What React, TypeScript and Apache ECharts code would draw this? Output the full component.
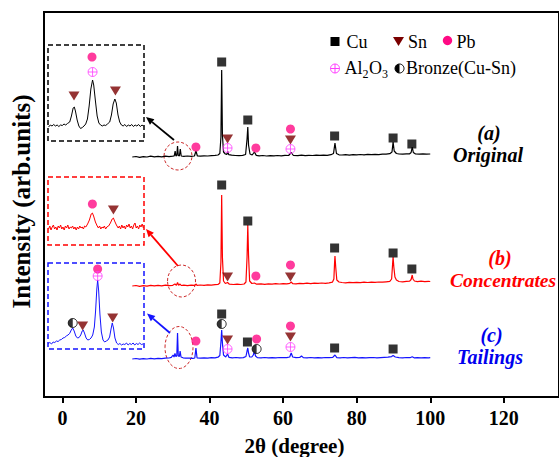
import React, { useEffect, useRef } from "react";
import * as echarts from "echarts";

const FONT = "Liberation Serif, Times New Roman, serif";

const xTickValues = [0, 20, 40, 60, 80, 100, 120];

// Main patterns: [2theta, offset intensity]
const originalCurve = [
  [19, 240], [20, 240.5], [21, 239.6], [22, 240.3], [23, 240], [24, 240.8], [25, 240.1], [26, 240.6], [27, 240.2], [28, 240.9],
  [29, 240.4], [30, 240.8], [30.4, 241], [30.65, 246], [30.85, 241], [31.1, 241.5], [31.3, 251], [31.5, 241.5], [31.8, 241],
  [32.05, 248], [32.3, 241], [33, 240.6], [34, 241], [35, 240.7], [35.9, 241], [36.3, 246], [36.7, 241], [37.5, 240.8],
  [38.5, 241.2], [39.5, 241], [40.5, 241.4], [41.5, 241.6], [42.3, 242], [42.8, 243.5], [43.1, 260], [43.3, 327], [43.5, 262],
  [43.8, 245], [44.3, 243], [44.7, 242.5], [44.95, 245.5], [45.2, 242.3], [46, 241.8], [47, 241.5], [48, 241.4], [49, 241.6],
  [49.8, 242.5], [50.2, 258], [50.4, 270], [50.6, 252], [51, 243], [51.6, 242], [52.2, 245], [52.7, 241.6], [53.5, 241.2],
  [54.5, 241.5], [55.5, 241], [56.5, 241.4], [57.5, 241.1], [58.5, 241.5], [59.5, 241.2], [60.5, 241.6], [61.5, 241.5],
  [62.2, 244.5], [62.8, 241.5], [64, 241.4], [65, 241.8], [66, 241.3], [67, 241.6], [68, 241.5], [69, 241.8], [70, 241.6],
  [71, 241.9], [72, 241.7], [73, 242.3], [73.7, 243.5], [74.1, 254], [74.5, 243.5], [75.2, 242.2], [76, 242], [77, 242.3],
  [78, 241.9], [79, 242.4], [80, 242.1], [81, 242.5], [82, 242.2], [83, 242.6], [84, 242.3], [85, 242.7], [86, 242.4],
  [87, 242.8], [88, 242.9], [89, 243.3], [89.6, 245], [89.9, 255], [90.2, 246], [90.8, 243.5], [91.5, 243], [92.5, 242.8],
  [93.5, 243.1], [94.4, 243.2], [94.8, 244.5], [95.1, 250], [95.4, 244.5], [96, 243], [97, 242.8], [98, 243.1], [99, 242.8],
  [100, 243],
];

const concentratesCurve = [
  [19, 111], [20, 111.5], [21, 110.6], [22, 111.4], [23, 110.9], [24, 111.6], [25, 111.1], [26, 111.7], [27, 111.2], [28, 111.8],
  [29, 111.3], [30, 111.7], [30.6, 113], [31, 111.6], [31.3, 114.5], [31.6, 111.7], [32.0, 113], [32.3, 111.5], [33, 111.8],
  [34, 111.4], [35, 111.9], [36, 111.6], [36.3, 113], [36.6, 111.7], [37.5, 112], [38.5, 111.6], [39.5, 112.1], [40.5, 111.8],
  [41.5, 112.3], [42.3, 112.6], [42.8, 114], [43.1, 135], [43.3, 202], [43.5, 140], [43.8, 116], [44.3, 113.5], [44.9, 114.5],
  [45.4, 112.8], [46.5, 112.5], [47.5, 112.9], [48.5, 112.5], [49.4, 113], [49.9, 115], [50.2, 140], [50.4, 172], [50.6, 142],
  [50.9, 116], [51.5, 113.5], [52.2, 114], [52.8, 112.8], [54, 113.1], [55, 112.7], [56, 113.2], [57, 112.9], [58, 113.3],
  [59, 113], [60, 113.4], [61, 113.1], [61.8, 113.6], [62.2, 115], [62.6, 113.4], [63.5, 113.2], [64.5, 113.7], [65.5, 113.3],
  [66.5, 113.8], [67.5, 113.4], [68.5, 113.9], [69.5, 113.6], [70.5, 114], [71.5, 113.7], [72.5, 114.2], [73.4, 114.8],
  [73.8, 118], [74.0, 135], [74.1, 141], [74.3, 130], [74.6, 117], [75.2, 115], [76, 114.5], [77, 114.2], [78, 114.6],
  [79, 114.3], [80, 114.7], [81, 114.4], [82, 114.8], [83, 114.5], [84, 114.9], [85, 114.6], [86, 115], [87, 114.8],
  [88, 115.2], [89, 115.6], [89.5, 118], [89.8, 135], [89.9, 140], [90.1, 130], [90.4, 120], [90.8, 117], [91.5, 115.5],
  [92.5, 115.2], [93.5, 115.6], [94.4, 115.8], [94.8, 117.5], [95.1, 122], [95.3, 118], [95.7, 116], [96.5, 115.4],
  [97.5, 115.8], [98.5, 115.4], [99.5, 115.7], [100, 115.5],
];

const tailingsCurve = [
  [19, 38], [20, 38.5], [21, 37.8], [22, 38.4], [23, 38], [24, 38.6], [25, 38.1], [26, 38.7], [27, 38.3], [28, 38.9], [29, 39],
  [29.6, 39.6], [30.1, 42], [30.35, 40], [30.6, 43.5], [30.85, 40.5], [31.1, 41], [31.3, 64], [31.5, 41], [31.8, 40.5],
  [32.0, 46], [32.25, 40], [32.8, 39.2], [33.5, 38.8], [34.5, 38.9], [35.5, 38.6], [36, 39], [36.3, 49], [36.6, 39.2],
  [37.5, 38.8], [38.5, 39.1], [39.5, 38.8], [40.5, 39.3], [41.5, 39.2], [42.3, 39.8], [42.8, 41.5], [43.1, 55], [43.3, 67],
  [43.5, 54], [43.8, 42], [44.4, 40], [44.9, 43], [45.3, 39.6], [46.2, 39.2], [47.2, 39.5], [48.2, 39.1], [49.2, 39.4],
  [49.9, 40.5], [50.2, 46], [50.4, 49], [50.6, 44], [50.9, 40.2], [51.5, 40], [51.9, 42], [52.2, 46], [52.5, 41], [53, 39.4],
  [54, 39.1], [55, 39.5], [56, 39.2], [57, 39.4], [58, 39.1], [59, 39.5], [60, 39.3], [61, 39.4], [61.8, 40], [62.2, 44],
  [62.6, 40], [63.5, 39.3], [64.5, 39.5], [65, 41], [65.5, 39.4], [66.5, 39.2], [67.5, 39.5], [68.5, 39.1], [69.5, 39.4],
  [70.5, 39.2], [71.5, 39.5], [72.5, 39.3], [73.5, 39.6], [74.1, 42], [74.6, 39.4], [75.5, 39.2], [76.5, 39.5], [77.5, 39.1],
  [78.5, 39.4], [79.5, 39.6], [80.5, 39.2], [81.5, 39.4], [82.5, 39.1], [83.5, 39.3], [84.5, 39.5], [85.5, 39.1], [86.5, 39.4],
  [87.5, 39.6], [88.5, 39.8], [89.5, 40.4], [89.9, 41.5], [90.5, 40], [91.5, 39.4], [92.5, 39.2], [93.5, 39.5], [94.5, 39.3],
  [95.1, 40.2], [95.6, 39.2], [96.5, 39.4], [97.5, 39.1], [98.5, 39.3], [99.5, 39.1], [100, 39.3],
];

// Inset (zoomed 2theta ≈ 29–34) patterns
const originalInsetCurve = [
  [29.76, 14], [29.82, 16], [29.88, 15], [29.94, 16.5], [30.0, 15], [30.06, 16], [30.12, 14.5], [30.18, 16], [30.24, 15.5],
  [30.3, 17], [30.36, 16], [30.42, 17.5], [30.5, 19], [30.56, 25], [30.62, 33], [30.66, 34], [30.7, 30], [30.76, 21],
  [30.82, 15], [30.88, 12.5], [30.94, 13.5], [31.0, 15], [31.06, 17], [31.12, 22], [31.18, 35], [31.24, 52], [31.3, 61],
  [31.34, 56], [31.4, 40], [31.46, 25], [31.52, 18], [31.58, 16], [31.64, 15], [31.7, 16], [31.76, 15.5], [31.82, 17],
  [31.9, 19], [31.96, 26], [32.02, 37], [32.08, 42], [32.13, 38], [32.19, 26], [32.25, 19], [32.31, 16], [32.37, 15],
  [32.43, 16.5], [32.49, 14.5], [32.55, 16], [32.61, 15], [32.67, 16.5], [32.73, 14.5], [32.79, 16], [32.85, 15],
  [32.91, 16.5], [32.97, 14.5], [33.03, 16], [33.08, 15],
];

const concentratesInsetCurve = [
  [29.84, 16], [29.88, 19], [29.92, 15], [29.96, 18], [30.0, 20], [30.04, 16], [30.08, 18], [30.12, 15], [30.16, 19],
  [30.2, 17], [30.24, 20], [30.28, 16], [30.32, 18], [30.36, 15], [30.4, 19], [30.44, 17], [30.48, 20], [30.52, 16],
  [30.56, 18], [30.6, 17], [30.64, 19], [30.68, 16], [30.72, 18], [30.76, 15], [30.8, 18], [30.84, 16], [30.88, 19],
  [30.92, 17], [30.96, 18], [31.0, 16], [31.04, 19], [31.08, 18], [31.14, 21], [31.2, 25], [31.26, 31], [31.3, 32],
  [31.34, 29], [31.4, 23], [31.46, 19], [31.5, 17], [31.54, 19], [31.58, 16], [31.62, 18], [31.66, 17], [31.7, 19],
  [31.74, 16], [31.78, 18], [31.84, 19], [31.9, 22], [31.96, 26], [32.0, 27], [32.04, 24], [32.1, 20], [32.16, 17],
  [32.2, 19], [32.24, 16], [32.28, 20], [32.32, 17], [32.36, 19], [32.4, 16], [32.44, 20], [32.48, 18], [32.52, 21],
  [32.56, 17], [32.6, 19], [32.64, 16], [32.68, 20], [32.72, 22], [32.76, 17], [32.8, 19], [32.84, 16], [32.88, 20],
  [32.92, 18], [32.96, 21], [33.0, 17],
];

const tailingsInsetCurve = [
  [28.9, 5.5], [28.98, 6.5], [29.06, 5], [29.14, 7], [29.22, 6.5], [29.3, 8], [29.38, 7.5], [29.46, 9], [29.54, 9.5],
  [29.62, 11], [29.7, 11.5], [29.78, 13], [29.86, 14], [29.94, 15.5], [30.02, 19], [30.09, 21], [30.16, 18], [30.24, 13],
  [30.32, 11], [30.4, 11.5], [30.48, 14], [30.55, 18], [30.6, 19], [30.66, 16], [30.74, 11], [30.82, 9], [30.9, 9.5],
  [30.98, 11], [31.06, 14], [31.14, 22], [31.2, 38], [31.26, 60], [31.3, 69], [31.35, 58], [31.41, 35], [31.48, 17],
  [31.56, 9], [31.64, 7], [31.72, 8], [31.8, 9], [31.88, 12], [31.95, 20], [32.01, 26], [32.07, 21], [32.14, 11], [32.22, 6],
  [32.3, 4.5], [32.38, 5.5], [32.46, 4], [32.54, 5], [32.62, 4.5], [32.7, 6], [32.78, 4], [32.86, 5.5], [32.94, 4.5],
  [33.02, 6], [33.1, 4], [33.18, 5.5], [33.26, 4.5], [33.34, 6], [33.42, 4.5], [33.5, 5],
];

// Phase markers (main chart)
const cuOriginal = [[43.3, 335], [50.4, 277], [74.0, 261], [89.9, 259], [95.0, 253]];
const snOriginal = [[44.9, 258], [62.0, 257]];
const pbOriginal = [[36.3, 250], [52.6, 249], [62.0, 268]];
const alOriginal = [[44.9, 249], [62.0, 248]];

const cuConcentrates = [[43.3, 212], [50.4, 176], [74.0, 149], [89.9, 144], [95.0, 128]];
const snConcentrates = [[44.9, 120], [62.0, 120]];
const pbConcentrates = [[52.6, 121], [62.0, 132]];

const cuTailings = [[43.3, 83], [50.3, 55], [74.0, 49], [89.9, 48]];
const snTailings = [[44.9, 57], [62.0, 60]];
const pbTailings = [[36.3, 56], [52.8, 58], [62.0, 71]];
const alTailings = [[44.9, 48], [62.0, 50]];
const bronzeTailings = [[43.3, 73], [52.8, 48]];

// Phase markers (insets)
const snOriginalInset = [[30.65, 45], [32.1, 50]];
const pbOriginalInset = [[31.28, 84]];
const alOriginalInset = [[31.3, 69]];
const pbConcentratesInset = [[31.3, 41]];
const snConcentratesInset = [[32.0, 35]];
const bronzeTailingsInset = [[30.09, 26]];
const snTailingsInset = [[30.57, 23], [32.03, 31]];
const pbTailingsInset = [[31.3, 80]];
const alTailingsInset = [[31.3, 73]];

const BLACK = "#000000";
const RED = "#ff0000";
const BLUE = "#1414ff";
const SN = "#7a0000";
const PB = "#ff0a84";
const AL = "#ff3cff";
const ELLIPSE = "#cc2a2a";

const TRI = "path://M0,0L20,0L10,17Z";
const OPLUS = "path://M0,10A10,10 0 1,1 20,10A10,10 0 1,1 0,10ZM10,0L10,20M0,10L20,10";
const HALF = "path://M10,0A10,10 0 0,0 10,20Z";

function lineSeries(data: number[][], color: string, idx: number, width: number) {
  return {
    type: "line",
    data,
    xAxisIndex: idx,
    yAxisIndex: idx,
    symbol: "none",
    showSymbol: false,
    silent: true,
    lineStyle: { color, width },
    z: 2,
  };
}

function markers(kind: string, data: number[][], idx: number): any[] {
  const base = { type: "scatter", data, xAxisIndex: idx, yAxisIndex: idx, silent: true, z: 5 };
  if (kind === "cu") return [{ ...base, symbol: "rect", symbolSize: 9, itemStyle: { color: "#000" } }];
  if (kind === "sn") return [{ ...base, symbol: TRI, symbolSize: [11, 9], itemStyle: { color: SN } }];
  if (kind === "pb") return [{ ...base, symbol: "circle", symbolSize: 9, itemStyle: { color: PB } }];
  if (kind === "al")
    return [{ ...base, symbol: OPLUS, symbolSize: 9, itemStyle: { color: "rgba(0,0,0,0)", borderColor: AL, borderWidth: 1 } }];
  return [
    { ...base, symbol: "circle", symbolSize: 9, itemStyle: { color: "#fff", borderColor: "#000", borderWidth: 1 } },
    { ...base, z: 6, symbol: HALF, symbolSize: [4.5, 9], symbolOffset: [-2.25, 0], itemStyle: { color: "#000" } },
  ];
}

function arrow(x1: number, y1: number, x2: number, y2: number, color: string) {
  const dx = x2 - x1, dy = y2 - y1;
  const len = Math.hypot(dx, dy);
  const ux = dx / len, uy = dy / len;
  const L = 8, W = 3.5;
  const bx = x2 - ux * L, by = y2 - uy * L;
  return [
    { type: "line", shape: { x1, y1, x2: bx, y2: by }, style: { stroke: color, lineWidth: 1.8 } },
    {
      type: "polygon",
      shape: { points: [[x2, y2], [bx - uy * W, by + ux * W], [bx + uy * W, by - ux * W]] },
      style: { fill: color },
    },
  ];
}

function text(x: number, y: number, t: string, size: number, color: string, extra: any = {}) {
  return {
    type: "text",
    x,
    y,
    style: {
      text: t,
      fontFamily: FONT,
      fontSize: size,
      fill: color,
      align: extra.align || "left",
      verticalAlign: "middle",
      fontWeight: extra.weight || "normal",
      fontStyle: extra.style || "normal",
    },
    ...(extra.rotation ? { rotation: extra.rotation } : {}),
  };
}

function dashedBox(x: number, y: number, w: number, h: number, color: string) {
  return {
    type: "rect",
    shape: { x, y, width: w, height: h },
    style: { fill: "none", stroke: color, lineWidth: 1.5, lineDash: [5, 3] },
  };
}

function ellipse(cx: number, cy: number, rx: number, ry: number) {
  return {
    type: "ellipse",
    shape: { cx, cy, rx, ry },
    style: { fill: "none", stroke: ELLIPSE, lineWidth: 1, lineDash: [3, 2] },
  };
}

export default function App() {
  const ref = useRef<HTMLDivElement>(null);
  useEffect(() => {
    if (!ref.current) return;
    const chart = echarts.init(ref.current, undefined, { renderer: "svg" });
    const hiddenAxis = (min: number, max: number, gridIndex: number) => ({
      type: "value",
      gridIndex,
      min,
      max,
      show: false,
    });
    const legendY1 = 41.5;
    const legendY2 = 67.5;
    const option: any = {
      animation: false,
      grid: [
        { left: 44, top: 12, right: -8, bottom: 60, show: true, borderColor: "#000", borderWidth: 2, backgroundColor: "transparent" },
        { left: 48, top: 45, width: 96, height: 96 },
        { left: 48, top: 177, width: 96, height: 68 },
        { left: 48, top: 263, width: 96, height: 86 },
      ],
      xAxis: [
        {
          type: "value",
          gridIndex: 0,
          min: -5,
          max: 135,
          splitLine: { show: false },
          axisLine: { show: true, onZero: false, lineStyle: { color: "#000", width: 2 } },
          axisTick: { show: true, customValues: xTickValues, length: 6, inside: false, lineStyle: { color: "#000", width: 2 } },
          axisLabel: {
            customValues: xTickValues,
            margin: 11,
            fontFamily: FONT,
            fontSize: 20,
            fontWeight: "bold",
            color: "#000",
          },
        },
        hiddenAxis(29.74, 33.1, 1),
        hiddenAxis(29.82, 33.02, 2),
        hiddenAxis(28.89, 33.55, 3),
      ],
      yAxis: [
        {
          type: "value",
          gridIndex: 0,
          min: 0,
          max: 385,
          splitLine: { show: false },
          axisLine: { show: false },
          axisTick: { show: false },
          axisLabel: { show: false },
        },
        hiddenAxis(0, 96, 1),
        hiddenAxis(0, 68, 2),
        hiddenAxis(0, 86, 3),
      ],
      series: [
        lineSeries(originalCurve, BLACK, 0, 1.2),
        lineSeries(concentratesCurve, RED, 0, 1.2),
        lineSeries(tailingsCurve, BLUE, 0, 1.2),
        lineSeries(originalInsetCurve, BLACK, 1, 1),
        lineSeries(concentratesInsetCurve, RED, 2, 1),
        lineSeries(tailingsInsetCurve, BLUE, 3, 1),
        ...markers("cu", cuOriginal, 0),
        ...markers("sn", snOriginal, 0),
        ...markers("pb", pbOriginal, 0),
        ...markers("al", alOriginal, 0),
        ...markers("cu", cuConcentrates, 0),
        ...markers("sn", snConcentrates, 0),
        ...markers("pb", pbConcentrates, 0),
        ...markers("cu", cuTailings, 0),
        ...markers("sn", snTailings, 0),
        ...markers("pb", pbTailings, 0),
        ...markers("al", alTailings, 0),
        ...markers("bronze", bronzeTailings, 0),
        ...markers("sn", snOriginalInset, 1),
        ...markers("pb", pbOriginalInset, 1),
        ...markers("al", alOriginalInset, 1),
        ...markers("pb", pbConcentratesInset, 2),
        ...markers("sn", snConcentratesInset, 2),
        ...markers("bronze", bronzeTailingsInset, 3),
        ...markers("sn", snTailingsInset, 3),
        ...markers("pb", pbTailingsInset, 3),
        ...markers("al", alTailingsInset, 3),
      ],
      graphic: {
        elements: [
          dashedBox(48, 45, 96, 96, BLACK),
          dashedBox(48, 177, 96, 68, RED),
          dashedBox(48, 263, 96, 86, BLUE),
          ellipse(178, 156, 14, 14),
          ellipse(181.5, 281, 14, 16),
          ellipse(179, 347.5, 14, 21),
          ...arrow(174, 140, 146, 117, BLACK),
          ...arrow(178, 266, 146, 229, RED),
          ...arrow(170, 333, 147, 313.5, BLUE),
          // legend
          { type: "rect", shape: { x: 330.5, y: legendY1 - 4.5, width: 9, height: 9 }, style: { fill: "#000" } },
          text(346.5, legendY1, "Cu", 18, "#000"),
          { type: "polygon", shape: { points: [[393, legendY1 - 4.5], [404, legendY1 - 4.5], [398.5, legendY1 + 4.5]] }, style: { fill: SN } },
          text(408, legendY1, "Sn", 18, "#000"),
          { type: "circle", shape: { cx: 447.5, cy: legendY1 - 1, r: 4.7 }, style: { fill: PB } },
          text(456.5, legendY1, "Pb", 18, "#000"),
          { type: "circle", shape: { cx: 335, cy: legendY2 + 1, r: 4.5 }, style: { fill: "none", stroke: AL, lineWidth: 1 } },
          { type: "line", shape: { x1: 330.5, y1: legendY2 + 1, x2: 339.5, y2: legendY2 + 1 }, style: { stroke: AL, lineWidth: 1 } },
          { type: "line", shape: { x1: 335, y1: legendY2 - 3.5, x2: 335, y2: legendY2 + 5.5 }, style: { stroke: AL, lineWidth: 1 } },
          text(344.5, legendY2, "Al", 18, "#000"),
          text(362.5, legendY2 + 6, "2", 12, "#000"),
          text(369, legendY2, "O", 18, "#000"),
          text(382, legendY2 + 6, "3", 12, "#000"),
          { type: "circle", shape: { cx: 399.5, cy: legendY2 + 1, r: 4.5 }, style: { fill: "#fff", stroke: "#000", lineWidth: 1 } },
          {
            type: "sector",
            shape: { cx: 399.5, cy: legendY2 + 1, r0: 0, r: 4.5, startAngle: Math.PI / 2, endAngle: Math.PI * 1.5 },
            style: { fill: "#000" },
          },
          text(406, legendY2, "Bronze(Cu-Sn)", 18, "#000"),
          // sample labels
          text(489, 133, "(a)", 20, BLACK, { align: "center", weight: "bold", style: "italic" }),
          text(488, 155, "Original", 20, BLACK, { align: "center", weight: "bold", style: "italic" }),
          text(500, 258, "(b)", 20, RED, { align: "center", weight: "bold", style: "italic" }),
          text(503, 280, "Concentrates", 19.5, RED, { align: "center", weight: "bold", style: "italic" }),
          text(491.5, 335, "(c)", 20, "#0000ee", { align: "center", weight: "bold", style: "italic" }),
          text(490, 356.5, "Tailings", 20, "#0000ee", { align: "center", weight: "bold", style: "italic" }),
          // axis titles
          text(294.5, 446, "2θ (degree)", 21, "#000", { align: "center", weight: "bold" }),
          text(21, 201.5, "Intensity (arb.units)", 25, "#000", { align: "center", weight: "bold", rotation: Math.PI / 2 }),
        ],
      },
    };
    chart.setOption(option);
    return () => chart.dispose();
  }, []);
  return (
    <div
      ref={ref}
      style={{ position: "fixed", left: 0, top: 0, width: 559, height: 457, background: "#fff" }}
    />
  );
}
